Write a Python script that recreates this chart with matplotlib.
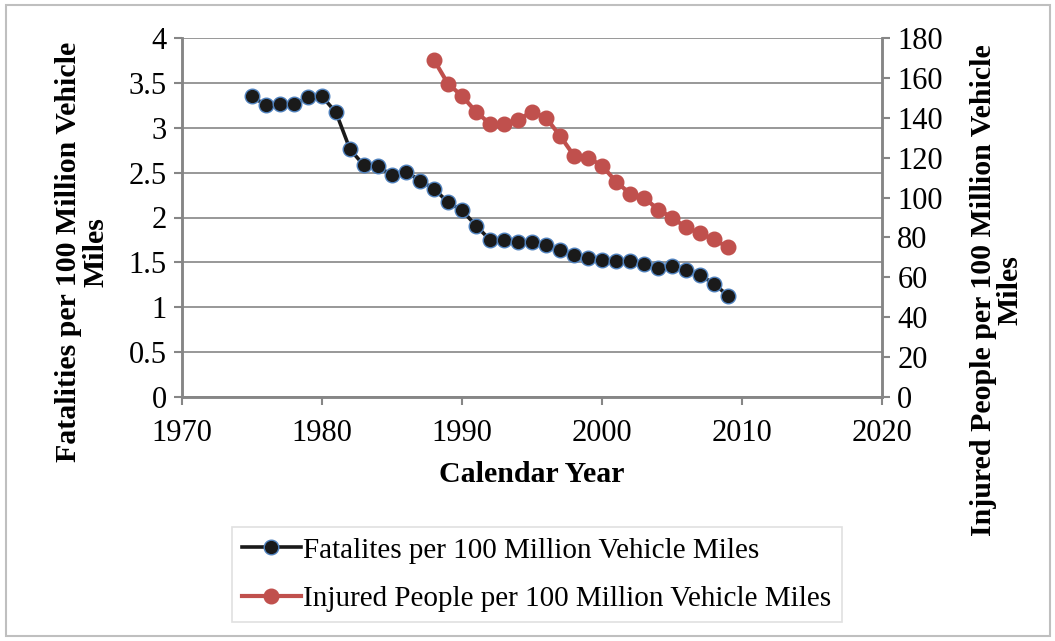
import matplotlib.pyplot as plt
from matplotlib.patches import Rectangle

plt.rcParams['font.family'] = ['Liberation Serif', 'DejaVu Serif']

# Fatalities per 100 million vehicle miles, 1975-2009
fatal_years = list(range(1975, 2010))
fatal_rate = [3.35, 3.25, 3.26, 3.26, 3.34, 3.35, 3.17, 2.76, 2.58, 2.57,
              2.47, 2.51, 2.41, 2.32, 2.17, 2.08, 1.91, 1.75, 1.75, 1.73,
              1.73, 1.69, 1.64, 1.58, 1.55, 1.53, 1.51, 1.51, 1.48, 1.44,
              1.46, 1.42, 1.36, 1.26, 1.13]

# Injured people per 100 million vehicle miles, 1988-2009
injured_years = list(range(1988, 2010))
injured_rate = [169, 157, 151, 143, 137, 137, 139, 143, 140, 131, 121,
                120, 116, 108, 102, 100, 94, 90, 85, 82, 79, 75]

x_ticks = [1970, 1980, 1990, 2000, 2010, 2020]
left_ticks = [0, 0.5, 1, 1.5, 2, 2.5, 3, 3.5, 4]
left_labels = ['0', '0.5', '1', '1.5', '2', '2.5', '3', '3.5', '4']
right_ticks = list(range(0, 181, 20))

W, H = 1055, 641
fig = plt.figure(figsize=(W / 100, H / 100), dpi=100)
fig.patches.append(Rectangle((6 / W, 5 / H), 1044 / W, 631 / H, transform=fig.transFigure,
                             fill=False, edgecolor='#bfbfbf', linewidth=1.5))

ax = fig.add_axes([182 / W, 1 - 397 / H, 700 / W, 359 / H])
ax2 = ax.twinx()

axis_grey = '#868686'
fs = 21.5
tfs = 22

l1, = ax.plot(fatal_years, fatal_rate, color='#1a1a1a', linewidth=2.6, marker='o',
              markersize=10.5, markerfacecolor='#1a1a1a', markeredgecolor='#4f81bd',
              markeredgewidth=1.0, zorder=3)
l2, = ax2.plot(injured_years, injured_rate, color='#c0504d', linewidth=3.0, marker='o',
               markersize=10.5, markerfacecolor='#c0504d', markeredgecolor='#c0504d', zorder=3)

ax.set_xlim(1970, 2020)
ax.set_ylim(0, 4)
ax2.set_ylim(0, 180)
ax.set_xticks(x_ticks)
ax.set_yticks(left_ticks)
ax.set_yticklabels(left_labels)
ax2.set_yticks(right_ticks)

ax.grid(axis='y', color=axis_grey, linewidth=1.2)
ax.set_axisbelow(True)

for a in (ax, ax2):
    for side in ('left', 'right', 'bottom'):
        a.spines[side].set_color(axis_grey)
        a.spines[side].set_linewidth(1.8)
    a.spines['top'].set_visible(False)
    a.tick_params(colors=axis_grey, labelcolor='black', labelsize=tfs, length=6, width=1.5)

ax.tick_params(axis='x', pad=10)
ax.tick_params(axis='y', pad=5)
ax2.tick_params(axis='y', pad=5)

fig.text(82 / W, 1 - 252 / H, 'Fatalities per 100 Million Vehicle\nMiles', rotation=90,
         ha='center', va='center', multialignment='center', fontsize=fs, fontweight='bold',
         linespacing=1.0)
fig.text(997 / W, 1 - 290 / H, 'Injured People per 100 Million Vehicle\nMiles', rotation=90,
         ha='center', va='center', multialignment='center', fontsize=fs, fontweight='bold',
         linespacing=1.0)
fig.text(532 / W, 1 - 474 / H, 'Calendar Year', ha='center', va='center',
         fontsize=fs, fontweight='bold')

leg = fig.legend([l1, l2], ['Fatalites per 100 Million Vehicle Miles',
                            'Injured People per 100 Million Vehicle Miles'],
                 loc='upper left', bbox_to_anchor=(232 / W, 1 - 527 / H),
                 fontsize=21, frameon=True, fancybox=False, handlelength=2.0,
                 handletextpad=0.1, borderpad=0.35, labelspacing=0.75, borderaxespad=0)
leg.get_frame().set_edgecolor('#d9d9d9')
leg.get_frame().set_linewidth(1.2)

fig.savefig('out.png', dpi=100)
